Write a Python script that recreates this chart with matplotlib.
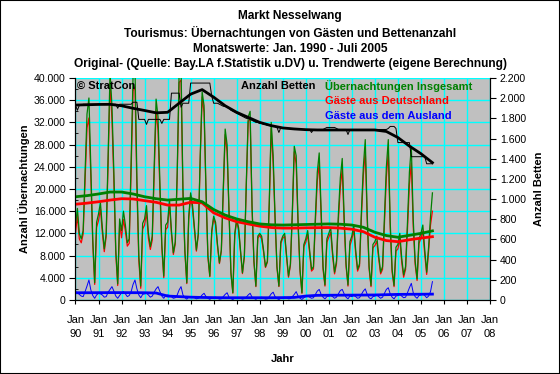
import matplotlib
matplotlib.use("Agg")
import matplotlib.pyplot as plt
import numpy as np
from matplotlib.patches import Rectangle
from matplotlib.ticker import FuncFormatter, MultipleLocator

plt.rcParams["font.family"] = ["Liberation Sans", "DejaVu Sans"]

# Monthly values Jan 1990 - Jul 2005, one row per year
total_by_year = [
    [13500, 16500, 12000, 11000, 12500, 23000, 33500, 36400, 24000, 11000, 3100, 14000],
    [15500, 17500, 13000, 9200, 12000, 26000, 41000, 35000, 23000, 9000, 2900, 14600],
    [12500, 16000, 13500, 10300, 11000, 25000, 40500, 42000, 22000, 8000, 2500, 13800],
    [14600, 17000, 12000, 9600, 11500, 24000, 36200, 33000, 21000, 10000, 4300, 13500],
    [14000, 18000, 12500, 8500, 10500, 23000, 41000, 42000, 20000, 9000, 3100, 15000],
    [19300, 17000, 13000, 9000, 12000, 26000, 37500, 35000, 20000, 8000, 4300, 12500],
    [15100, 14000, 10000, 6700, 9000, 20000, 30800, 28000, 16000, 5000, 1300, 12000],
    [14600, 13000, 9000, 4900, 8000, 21000, 33000, 34000, 17000, 7000, 2500, 11500],
    [12000, 11500, 9000, 6000, 7000, 18000, 32000, 26000, 15000, 6000, 2500, 10500],
    [11500, 12000, 8000, 4300, 6500, 16000, 27700, 26000, 14000, 5500, 1300, 10000],
    [11000, 12500, 9000, 5500, 6000, 15000, 23000, 26500, 16000, 6000, 2700, 11000],
    [12000, 13000, 8500, 5000, 7000, 15500, 22000, 25500, 15000, 6500, 2700, 10500],
    [11500, 13500, 9000, 5500, 6500, 16000, 24000, 28900, 15500, 6000, 2600, 10000],
    [10500, 11500, 8000, 5000, 6000, 15000, 24000, 28900, 14000, 5500, 2600, 9500],
    [10000, 12000, 7500, 4500, 6000, 14000, 23000, 27700, 14500, 7000, 3800, 11000],
    [12000, 13500, 9000, 5000, 9500, 15000, 19300],
]

german_by_year = [
    [12000, 15200, 11000, 10300, 11900, 21500, 31000, 32800, 22200, 10200, 2800, 13100],
    [14300, 16400, 12100, 8700, 11400, 24600, 39100, 32600, 21400, 8300, 2600, 13800],
    [11200, 14500, 12400, 9700, 10200, 23500, 37700, 38400, 20000, 7100, 2100, 12800],
    [13500, 15800, 11100, 9100, 10800, 22600, 34200, 30600, 19500, 9300, 4000, 12700],
    [13100, 17200, 11900, 8200, 10100, 22100, 39200, 39600, 19100, 8600, 2950, 14500],
    [18800, 16400, 12600, 8800, 11700, 25500, 36600, 33800, 19400, 7700, 4200, 12100],
    [14700, 13500, 9700, 6550, 8800, 19400, 29800, 26700, 15500, 4750, 1220, 11650],
    [14200, 12550, 8700, 4750, 7750, 20500, 32100, 32800, 16500, 6700, 2400, 11100],
    [11650, 11000, 8700, 5850, 6800, 17400, 30900, 24600, 14400, 5750, 2420, 10200],
    [11100, 11500, 7650, 4100, 6250, 15400, 26700, 24500, 13300, 5200, 1200, 9600],
    [10400, 11800, 8500, 5200, 5600, 14000, 21400, 24600, 15000, 5500, 2500, 10400],
    [11300, 12200, 7900, 4700, 6500, 14400, 20300, 23600, 13900, 6000, 2500, 9800],
    [10900, 12700, 8400, 5200, 6100, 15000, 22400, 26900, 14500, 5600, 2400, 9400],
    [9800, 10600, 7400, 4700, 5500, 13800, 22100, 26700, 12900, 5000, 2400, 8800],
    [9200, 11000, 6800, 4100, 5500, 12700, 20800, 24700, 13200, 6400, 3500, 10200],
    [11100, 12400, 8200, 4600, 8800, 13500, 16000],
]

foreign_by_year = [
    [1500, 1300, 1000, 700, 600, 1500, 2500, 3600, 1800, 800, 300, 900],
    [1200, 1100, 900, 500, 600, 1400, 1900, 2400, 1600, 700, 300, 800],
    [1300, 1500, 1100, 600, 800, 1500, 2800, 3600, 2000, 900, 400, 1000],
    [1100, 1200, 900, 500, 700, 1400, 2000, 2400, 1500, 700, 300, 800],
    [900, 800, 600, 300, 400, 900, 1800, 2400, 900, 400, 150, 500],
    [500, 600, 400, 200, 300, 500, 900, 1200, 600, 300, 100, 400],
    [400, 500, 300, 150, 200, 600, 1000, 1300, 500, 250, 80, 350],
    [400, 450, 300, 150, 250, 500, 900, 1200, 500, 300, 100, 400],
    [350, 500, 300, 150, 200, 600, 1100, 1400, 600, 250, 80, 300],
    [400, 500, 350, 200, 250, 600, 1000, 1500, 700, 300, 100, 400],
    [600, 700, 500, 300, 400, 1000, 1600, 1900, 1000, 500, 200, 600],
    [700, 800, 600, 300, 500, 1100, 1700, 1900, 1100, 500, 200, 700],
    [600, 800, 600, 300, 400, 1000, 1600, 2000, 1000, 400, 200, 600],
    [700, 900, 600, 300, 500, 1200, 1900, 2200, 1100, 500, 200, 700],
    [800, 1000, 700, 400, 500, 1300, 2200, 3000, 1300, 600, 300, 800],
    [900, 1100, 800, 400, 700, 1500, 3300],
]

beds_by_year = [
    [1930, 1880, 1930, 1930, 1940, 1940, 1940, 1940, 1940, 1940, 1940, 1940],
    [1940, 1940, 1940, 1940, 1940, 1940, 1940, 1940, 1940, 1940, 1900, 1940],
    [1940, 1940, 1940, 1940, 1940, 1940, 1960, 1960, 1960, 1790, 1790, 1790],
    [1790, 1740, 1790, 1790, 1790, 1790, 1790, 1790, 1790, 1750, 1790, 1790],
    [1790, 1790, 2050, 2050, 2050, 2050, 2050, 1910, 1950, 1950, 1950, 1950],
    [2150, 2150, 2150, 2150, 2150, 2150, 2150, 2150, 2150, 2150, 2150, 2020],
    [1950, 1950, 1950, 1940, 1930, 1920, 1920, 1910, 1900, 1880, 1870, 1860],
    [1850, 1840, 1830, 1820, 1810, 1800, 1800, 1790, 1780, 1770, 1760, 1760],
    [1750, 1750, 1740, 1740, 1730, 1730, 1720, 1720, 1720, 1710, 1660, 1710],
    [1700, 1700, 1700, 1700, 1700, 1690, 1690, 1690, 1690, 1690, 1690, 1690],
    [1690, 1690, 1690, 1660, 1690, 1690, 1690, 1690, 1690, 1690, 1700, 1710],
    [1710, 1710, 1710, 1710, 1700, 1690, 1690, 1690, 1690, 1690, 1640, 1690],
    [1690, 1690, 1690, 1690, 1690, 1690, 1690, 1690, 1690, 1690, 1690, 1690],
    [1690, 1690, 1690, 1690, 1690, 1690, 1690, 1700, 1720, 1720, 1720, 1700],
    [1560, 1560, 1560, 1560, 1560, 1560, 1560, 1420, 1420, 1420, 1420, 1420],
    [1420, 1420, 1420, 1350, 1350, 1350, 1350],
]

# Trend values, read every six months (Jan / Jul) from Jan 1990 to Jul 2005
trend_months = list(range(0, 187, 6))
trend_total = [18600, 18800, 19100, 19450, 19450, 19100, 18600, 18250, 18000, 18150,
               18300, 17700, 16300, 15300, 14600, 14100, 13700, 13550, 13500, 13550,
               13600, 13650, 13700, 13650, 13500, 13100, 12200, 11600, 11300, 11650,
               12000, 12450]
trend_german = [17250, 17450, 17700, 18000, 18250, 18200, 17900, 17600, 17100, 17100,
                17600, 17500, 15700, 14800, 14100, 13700, 13300, 13050, 12950, 12950,
                13000, 13030, 13050, 12950, 12750, 12300, 11300, 10700, 10500, 10850,
                11150, 11400]
trend_foreign = [1300, 1300, 1310, 1320, 1320, 1310, 1300, 1250, 700, 600,
                 500, 450, 420, 400, 400, 400, 400, 400, 420, 450,
                 700, 830, 850, 860, 870, 880, 900, 950, 1000, 1020,
                 1030, 1050]
trend_beds = [1932, 1935, 1938, 1939, 1925, 1900, 1878, 1855, 1860, 1950,
              2040, 2085, 2010, 1925, 1860, 1810, 1760, 1728, 1705, 1695,
              1688, 1685, 1685, 1685, 1685, 1685, 1685, 1670, 1610, 1525,
              1450, 1361]

year_labels = ["90", "91", "92", "93", "94", "95", "96", "97", "98", "99",
               "00", "01", "02", "03", "04", "05", "06", "07", "08"]

total = np.concatenate(total_by_year)
german = np.concatenate(german_by_year)
foreign = np.concatenate(foreign_by_year)
beds = np.concatenate(beds_by_year)
months = np.arange(len(total))

GREEN = "#008000"
RED = "#FF0000"
BLUE = "#0000FF"


def dotted(v, pos):
    return f"{v:,.0f}".replace(",", ".")


fig = plt.figure(figsize=(5.6, 3.74), dpi=100)
fig.patch.set_facecolor("white")
ax = fig.add_axes([0.1348, 0.198, 0.7402, 0.5934])
ax.set_facecolor("#C0C0C0")

ax.plot(months, german, color=RED, lw=0.9, zorder=2)
ax.plot(months, total, color=GREEN, lw=0.9, zorder=3)
ax.plot(months, foreign, color=BLUE, lw=0.7, zorder=4)
ax.plot(trend_months, trend_german, color=RED, lw=2.0, zorder=5)
ax.plot(trend_months, trend_total, color=GREEN, lw=2.0, zorder=5)
ax.plot(trend_months, trend_foreign, color=BLUE, lw=2.0, zorder=5)

ax.set_xlim(0, 216)
ax.set_ylim(0, 40000)
ax.set_xticks(np.arange(0, 217, 12))
ax.set_xticklabels([f"Jan\n{y}" for y in year_labels], linespacing=1.45)
ax.yaxis.set_major_locator(MultipleLocator(4000))
ax.yaxis.set_minor_locator(MultipleLocator(2000))
ax.yaxis.set_major_formatter(FuncFormatter(dotted))
ax.grid(True, which="major", color="#00FFFF", lw=1.0)
ax.set_axisbelow(True)
ax.tick_params(axis="x", direction="out", length=3, pad=8, labelsize=8)
ax.tick_params(axis="y", which="major", direction="out", length=4, pad=3, labelsize=7.6)
ax.tick_params(axis="y", which="minor", direction="in", length=2)
ax.spines["top"].set_visible(False)
for s in ("left", "bottom", "right"):
    ax.spines[s].set_color("black")
ax.set_ylabel("Anzahl Übernachtungen", fontsize=8, fontweight="bold", labelpad=3)
ax.set_xlabel("Jahr", fontsize=8, fontweight="bold", labelpad=11)

ax2 = ax.twinx()
ax2.plot(months, beds, color="black", lw=0.7, zorder=6)
ax2.plot(trend_months, trend_beds, color="black", lw=2.0, zorder=7)
ax2.set_ylim(0, 2200)
ax2.yaxis.set_major_locator(MultipleLocator(200))
ax2.yaxis.set_major_formatter(FuncFormatter(dotted))
ax2.tick_params(axis="y", direction="out", length=4, pad=3, labelsize=7.6)
ax2.spines["top"].set_visible(False)
ax2.set_ylabel("Anzahl Betten", fontsize=8, fontweight="bold", rotation=90, labelpad=6)

# in-plot labels
ax.text(0.004, 0.965, "© StratCon", transform=ax.transAxes, fontsize=8,
        fontweight="bold", color="black", va="center", zorder=10)
ax.text(0.40, 0.965, "Anzahl Betten", transform=ax.transAxes, fontsize=8,
        fontweight="bold", color="black", va="center", zorder=10)
ax.text(0.603, 0.965, "Übernachtungen Insgesamt", transform=ax.transAxes, fontsize=8,
        fontweight="bold", color=GREEN, va="center", zorder=10)
ax.text(0.603, 0.895, "Gäste aus Deutschland", transform=ax.transAxes, fontsize=8,
        fontweight="bold", color=RED, va="center", zorder=10)
ax.text(0.603, 0.827, "Gäste aus dem Ausland", transform=ax.transAxes, fontsize=8,
        fontweight="bold", color=BLUE, va="center", zorder=10)

titles = [
    "Markt Nesselwang",
    "Tourismus: Übernachtungen von Gästen und Bettenanzahl",
    "Monatswerte: Jan. 1990 - Juli 2005",
    "Original- (Quelle: Bay.LA f.Statistik u.DV) u. Trendwerte (eigene Berechnung)",
]
for i, t in enumerate(titles):
    fig.text(290 / 560, 1 - (16.5 + 16 * i) / 374, t, ha="center", va="center",
             fontsize=8.6, fontweight="bold")

fig.patches.append(Rectangle((0, 0), 1, 1, transform=fig.transFigure, fill=False,
                             edgecolor="black", lw=1.5))

fig.savefig("out.png", dpi=100)
